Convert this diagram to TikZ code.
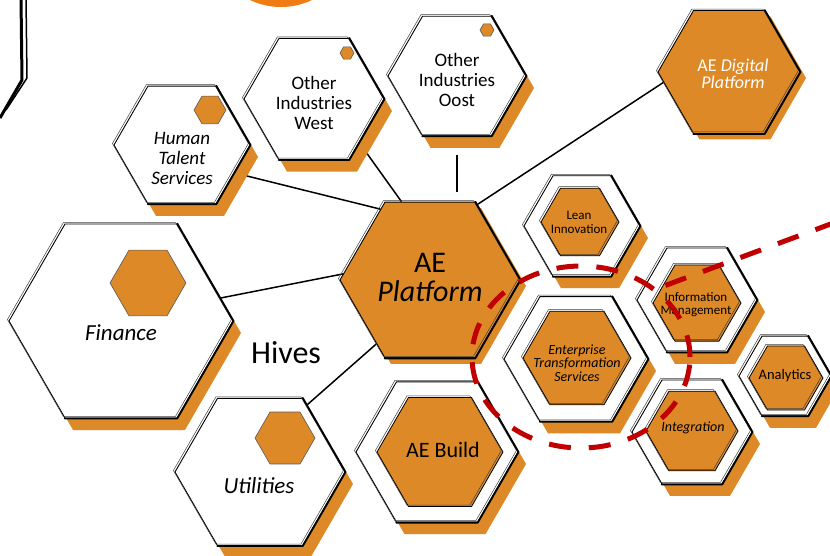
\documentclass[tikz,border=0pt]{standalone}
\usepackage{fontspec}
\setmainfont{Carlito}
\usetikzlibrary{shapes.geometric,calc,backgrounds}
\definecolor{hiveorange}{RGB}{221,137,40}
\definecolor{bloborange}{RGB}{240,125,20}
\definecolor{lassored}{RGB}{192,0,0}
\tikzset{
	hex/.style={regular polygon, regular polygon sides=6, minimum size=#1, inner sep=0pt, draw=black, line width=0.9pt},
	sketchy/.style={postaction={draw=black!75, line width=0.5pt, transform canvas={shift={(-1.6pt,1.5pt)}}}},
	cell/.style={hex=#1, fill=white, sketchy, preaction={fill=hiveorange, transform canvas={shift={(8pt,-12pt)}}}},
	hub/.style={hex=#1, fill=hiveorange, sketchy, preaction={fill=hiveorange, transform canvas={shift={(6pt,-6pt)}}}},
	core/.style={hex=#1, fill=hiveorange, line width=0.8pt, sketchy},
	chip/.style={hex=#1, fill=hiveorange, draw=black!65, line width=0.6pt},
	rim/.style={line width=1.8pt, line join=round, line cap=round},
	link/.style={line width=1.5pt},
	txt/.style={align=center, inner sep=0pt},
	lasso/.style={draw=lassored, line width=5pt, dash pattern=on 22pt off 18pt}
}
\newcommand{\fsz}[2]{\fontsize{#1}{#2}\selectfont}

\begin{document}
\begin{tikzpicture}[x=1pt, y=-1pt]
	\useasboundingbox (0,0) rectangle (830,555);

	% leftovers of the neighbouring sketch
	\fill[bloborange] (281,-65) circle (72);
	\draw[line width=3pt, line join=round] (21,-2) -- (22,80) -- (0,118);
	\draw[line width=1.5pt, line join=round] (26,-2) -- (27,78) -- (6,110);

	% hives
	\node[cell=224pt] (fin) at (121,321) {};
	\node[chip=76pt] (fin-c) at (148,283) {};
	\node[txt, font=\fsz{23}{24}\itshape] (fin-t) at (121,333) {Finance};

	\node[cell=136pt] (hts) at (182,145) {};
	\node[chip=32pt] (hts-c) at (210,110) {};
	\node[txt, font=\fsz{19}{20}\itshape] (hts-t) at (182,158) {Human\\Talent\\Services};

	\node[cell=140pt] (oiw) at (314,99) {};
	\node[chip=14pt] (oiw-c) at (347,53) {};
	\node[txt, font=\fsz{19}{20}] (oiw-t) at (314,103) {Other\\Industries\\West};

	\node[cell=138pt] (oio) at (457,76) {};
	\node[chip=14pt] (oio-c) at (487,30) {};
	\node[txt, font=\fsz{19}{20}] (oio-t) at (457,80) {Other\\Industries\\Oost};

	\node[cell=170pt] (util) at (260,472) {};
	\node[chip=60pt] (util-c) at (285,438) {};
	\node[txt, font=\fsz{23}{24}\itshape] (util-t) at (259,486) {Utilities};

	\node[txt, font=\fsz{32}{34}] (hives) at (286,353) {Hives};

	% platform and its parts
	\node[hub=142pt] (aedp) at (729,72) {};
	\node[txt, text=white, font=\fsz{18}{17}] (aedp-t) at (733,74) {AE \textit{Digital}\\\textit{Platform}};

	\node[hub=180pt] (plat) at (430,280) {};
	\node[txt, font=\fsz{30}{29}] (plat-t) at (430,277) {AE\\\textit{Platform}};

	\node[cell=162pt] (build) at (437,452) {};
	\node[core=126pt] (build-c) at (440,452) {};
	\node[txt, font=\fsz{22}{24}] (build-t) at (443,450) {AE Build};

	\node[cell=116pt] (lean) at (582,226) {};
	\node[core=78pt] (lean-c) at (580,222) {};
	\node[txt, font=\fsz{13}{14}] (lean-t) at (579,222) {Lean\\Innovation};

	\node[cell=144pt] (ets) at (576,359) {};
	\node[core=108pt] (ets-c) at (577,358) {};
	\node[txt, font=\fsz{14}{13.5}\itshape] (ets-t) at (577,363) {Enterprise\\Transformation\\Services};

	\node[cell=120pt] (im) at (697,300) {};
	\node[core=88pt] (im-c) at (697,303) {};
	\node[txt, font=\fsz{13}{13}] (im-t) at (696,305) {Information\\Management};

	\node[cell=92pt] (ana) at (785,376) {};
	\node[core=74pt] (ana-c) at (786,378) {};
	\node[txt, font=\fsz{14.5}{15}] (ana-t) at (785,376) {Analytics};

	\node[cell=120pt] (integ) at (692,432) {};
	\node[core=92pt] (integ-c) at (692,431) {};
	\node[txt, font=\fsz{14}{15}\itshape] (integ-t) at (693,428) {Integration};

	\foreach \n in {fin,hts,oiw,oio,util,aedp,plat,build,lean,ets,im,ana,integ}
		\draw[rim] (\n.60) -- (\n.0) -- (\n.-60) -- (\n.-120);

	\begin{scope}[on background layer]
		\draw[link] (hts.-28) -- (plat.125);
		\draw[link] (fin.13) -- (plat.176);
		\draw[link] (util.55) -- (plat.230);
		\draw[link] (oiw.-44) -- (plat.110);
		\draw[link] ($(oio.south)+(0,19)$) -- ($(oio.south |- plat.north)+(0,-10)$);
		\draw[link] (aedp.189) -- (plat.58);
	\end{scope}

	% the lasso round ETS
	\node[lasso, ellipse, minimum width=218pt, minimum height=182pt] (loop) at (581,357) {};
	\coordinate (tail) at (836,222);
	\draw[lasso] (tail) -- (loop.42);

\end{tikzpicture}
\end{document}
